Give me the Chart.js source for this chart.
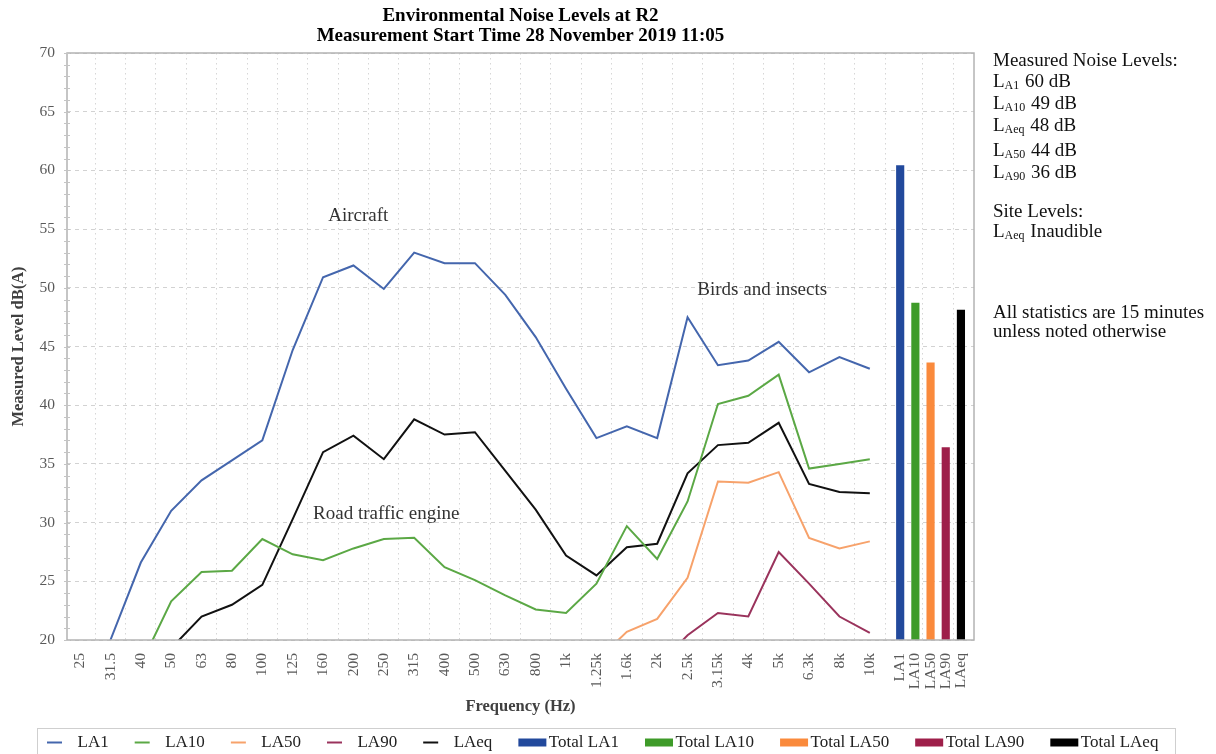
<!DOCTYPE html>
<html>
<head>
<meta charset="utf-8">
<script src="https://cdn.jsdelivr.net/npm/chart.js@4.4.1/dist/chart.umd.min.js"></script>
<style>
  html, body { margin: 0; padding: 0; background: #ffffff; }
  canvas { display: block; }
</style>
</head>
<body>
<canvas id="chart" width="1216" height="754"></canvas>
<script>
// One-third octave band centre frequencies (x categories)
const frequencies = ['25', '31.5', '40', '50', '63', '80', '100', '125', '160', '200', '250', '315',
  '400', '500', '630', '800', '1k', '1.25k', '1.6k', '2k', '2.5k', '3.15k', '4k', '5k', '6.3k', '8k', '10k'];

// Spectrum levels per band, dB(A); null where the band sits below the axis floor
const la1 = [null, 20.0, 26.6, 31.0, 33.6, 35.3, 37.0, 44.7, 50.9, 51.9, 49.9, 53.0, 52.1, 52.1,
  49.4, 45.8, 41.4, 37.2, 38.2, 37.2, 47.5, 43.4, 43.8, 45.4, 42.8, 44.1, 43.1];
const la10 = [null, null, 17.9, 23.3, 25.8, 25.9, 28.6, 27.3, 26.8, 27.8, 28.6, 28.7, 26.2, 25.1,
  23.8, 22.6, 22.3, 24.8, 29.7, 26.9, 31.8, 40.1, 40.8, 42.6, 34.6, 35.0, 35.4];
const la50 = [null, null, null, null, null, null, null, null, null, null, null, null, null, null,
  null, null, null, 18.2, 20.7, 21.8, 25.3, 33.5, 33.4, 34.3, 28.7, 27.8, 28.4];
const la90 = [null, null, null, null, null, null, null, null, null, null, null, null, null, null,
  null, null, null, null, null, 17.8, 20.4, 22.3, 22.0, 27.5, 24.8, 22.0, 20.6];
const laeq = [null, null, null, 19.3, 22.0, 23.0, 24.7, 30.3, 36.0, 37.4, 35.4, 38.8, 37.5, 37.7,
  34.4, 31.1, 27.2, 25.5, 27.9, 28.2, 34.2, 36.6, 36.8, 38.5, 33.3, 32.6, 32.5];

// Overall (broadband) statistics
const totalNames = ['LA1', 'LA10', 'LA50', 'LA90', 'LAeq'];
const totalLevels = [60.4, 48.7, 43.6, 36.4, 48.1];

// Y axis range and tick step
const yMin = 20, yMax = 70, yStep = 5;

// Source notes drawn on the plot
const notes = [
  { text: 'Aircraft', band: 8.17, level: 56.1 },
  { text: 'Birds and insects', band: 20.32, level: 49.8 },
  { text: 'Road traffic engine', band: 7.67, level: 30.7 }
];

// Side panel text
const siteLevels = [['LAeq', 'Inaudible']];
const footnote = ['All statistics are 15 minutes', 'unless noted otherwise'];

// ---------------------------------------------------------------------------
const SERIF = '"Liberation Serif", "Times New Roman", serif';
const lineColours = ['#4466ad', '#5ba845', '#f7a26b', '#9a335c', '#111111'];
const barColours = ['#22499c', '#3e9b29', '#fa8a3c', '#9e1f4a', '#000000'];
const spectra = [la1, la10, la50, la90, laeq];

// Total bars sit after the last band, half a band apart
const totalPos = totalNames.map((_, k) => frequencies.length + k * 0.5);
const tickPos = frequencies.map((_, i) => i).concat(totalPos);
const tickText = new Map(tickPos.map((p, i) => [p, i < frequencies.length ? frequencies[i] : totalNames[i - frequencies.length]]));

// Legend keys: short line for spectra, wide block for totals
const KEY_BOX = 42, KEY_LEAD = 20, KEY_EXTRA = 7;
function makeKey(colour, isBar) {
  const c = document.createElement('canvas');
  c.width = KEY_BOX + 2 * KEY_EXTRA;
  c.height = 10;
  const g = c.getContext('2d');
  const x0 = KEY_EXTRA + KEY_LEAD;
  if (isBar) {
    g.fillStyle = colour;
    g.fillRect(x0, 1, 28, 8);
  } else {
    g.strokeStyle = colour;
    g.lineWidth = 2;
    g.beginPath();
    g.moveTo(x0, 5);
    g.lineTo(x0 + 15, 5);
    g.stroke();
  }
  return c;
}

const datasets = [];
spectra.forEach((arr, s) => {
  datasets.push({
    type: 'line',
    label: totalNames[s],
    data: arr.map((v, i) => ({ x: i, y: v })),
    borderColor: lineColours[s],
    backgroundColor: lineColours[s],
    borderWidth: 2,
    pointRadius: 0,
    tension: 0,
    fill: false,
    spanGaps: false,
    key: makeKey(lineColours[s], false)
  });
});
totalNames.forEach((name, k) => {
  datasets.push({
    type: 'bar',
    label: 'Total ' + name,
    data: [{ x: totalPos[k], y: totalLevels[k] }],
    backgroundColor: barColours[k],
    borderWidth: 0,
    barThickness: 7.5,
    grouped: false,
    key: makeKey(barColours[k], true)
  });
});

// Plot frame and minor level ticks
const framePlugin = {
  id: 'frame',
  afterDatasetsDraw(chart) {
    const { ctx, chartArea: a, scales: { y } } = chart;
    ctx.save();
    ctx.strokeStyle = '#b3b3b3';
    ctx.lineWidth = 1.5;
    ctx.strokeRect(a.left, a.top, a.right - a.left, a.bottom - a.top);
    ctx.lineWidth = 1;
    ctx.strokeStyle = '#c4c4c4';
    for (let v = yMin; v <= yMax; v++) {
      const py = Math.round(y.getPixelForValue(v)) + 0.5;
      ctx.beginPath();
      ctx.moveTo(a.left - 3, py);
      ctx.lineTo(a.left + 3, py);
      ctx.stroke();
    }
    ctx.restore();
  }
};

// Source notes placed in data coordinates
const notesPlugin = {
  id: 'notes',
  afterDatasetsDraw(chart) {
    const { ctx, scales: { x, y } } = chart;
    ctx.save();
    ctx.font = '19px ' + SERIF;
    ctx.fillStyle = '#333333';
    ctx.textAlign = 'left';
    ctx.textBaseline = 'middle';
    notes.forEach(n => ctx.fillText(n.text, x.getPixelForValue(n.band), y.getPixelForValue(n.level)));
    ctx.restore();
  }
};

// Legend frame
const legendFramePlugin = {
  id: 'legendFrame',
  afterDraw(chart) {
    const lg = chart.legend;
    if (!lg || !lg.lineWidths) return;
    const pad = lg.options.labels.padding;
    const left = lg.left + pad + KEY_LEAD - 10;
    const right = lg.left + lg.lineWidths[0] + 17;
    const ctx = chart.ctx;
    ctx.save();
    ctx.strokeStyle = '#cfcfcf';
    ctx.lineWidth = 1;
    ctx.strokeRect(Math.round(left) + 0.5, Math.round(lg.top) + 0.5, Math.round(right - left), 40);
    ctx.restore();
  }
};

// Side panel with the overall levels
const panelPlugin = {
  id: 'panel',
  afterDraw(chart) {
    const { ctx, chartArea: a } = chart;
    const x0 = a.right + 19;
    const top = a.top;
    ctx.save();
    ctx.fillStyle = '#111111';
    ctx.textAlign = 'left';
    ctx.textBaseline = 'middle';
    const big = '19px ' + SERIF, small = '12px ' + SERIF;
    const subLine = (name, rest, y) => {
      ctx.font = big;
      ctx.fillText('L', x0, y);
      let x = x0 + ctx.measureText('L').width;
      ctx.font = small;
      const sub = name.slice(1);
      ctx.fillText(sub, x, y + 4);
      x += ctx.measureText(sub).width + 1;
      ctx.font = big;
      ctx.fillText(' ' + rest, x, y);
    };
    ctx.font = big;
    ctx.fillText('Measured Noise Levels:', x0, top + 8);
    const order = totalNames.map((n, i) => i).sort((p, q) => totalLevels[q] - totalLevels[p]);
    const rows = [28.7, 51.3, 73, 97.7, 119.7];
    order.forEach((i, r) => subLine(totalNames[i], Math.round(totalLevels[i]) + ' dB', top + rows[r]));
    ctx.font = big;
    ctx.fillText('Site Levels:', x0, top + 158.7);
    siteLevels.forEach(([n, v], r) => subLine(n, v, top + 179.3 + r * 21));
    ctx.font = big;
    footnote.forEach((t, r) => ctx.fillText(t, x0, top + 260.3 + r * 19));
    ctx.restore();
  }
};

new Chart(document.getElementById('chart'), {
  type: 'line',
  data: { datasets },
  options: {
    responsive: false,
    animation: false,
    devicePixelRatio: 1,
    layout: { padding: { left: 21, right: 0, top: 6, bottom: -7 } },
    plugins: {
      title: {
        display: true,
        fullSize: false,
        text: ['Environmental Noise Levels at R2', 'Measurement Start Time 28 November 2019 11:05'],
        color: '#000000',
        font: { family: SERIF, size: 19, weight: 'bold', lineHeight: '20px' },
        padding: { top: 0, bottom: 7 }
      },
      legend: {
        position: 'bottom',
        align: 'start',
        labels: {
          usePointStyle: true,
          pointStyleWidth: KEY_BOX,
          padding: 6,
          color: '#222222',
          font: { family: SERIF, size: 17 },
          generateLabels(chart) {
            const items = Chart.defaults.plugins.legend.labels.generateLabels(chart);
            items.forEach(it => { it.pointStyle = chart.data.datasets[it.datasetIndex].key; });
            return items;
          }
        }
      },
      tooltip: { enabled: false }
    },
    scales: {
      x: {
        type: 'linear',
        position: 'bottom',
        min: -0.43,
        max: totalPos[totalPos.length - 1] + 0.43,
        offset: false,
        afterBuildTicks(scale) { scale.ticks = tickPos.map(v => ({ value: v })); },
        afterFit(scale) { scale.height = 88; },
        ticks: {
          autoSkip: false,
          minRotation: 90,
          maxRotation: 90,
          padding: 13,
          color: '#595959',
          font: { family: SERIF, size: 15.5 },
          callback: v => tickText.get(v) ?? ''
        },
        grid: {
          drawTicks: false,
          lineWidth: 1,
          color: ctx => (ctx.tick && Number.isInteger(ctx.tick.value)) ? '#d6d6d6' : 'rgba(0,0,0,0)'
        },
        border: { display: false, dash: [1.5, 3.5] },
        title: {
          display: true,
          text: 'Frequency (Hz)',
          color: '#404040',
          font: { family: SERIF, size: 16.5, weight: 'bold' },
          padding: { top: 0, bottom: 11.1 }
        }
      },
      y: {
        type: 'linear',
        position: 'left',
        min: yMin,
        max: yMax,
        afterFit(scale) { scale.width = 46; },
        ticks: {
          stepSize: yStep,
          padding: 12,
          color: '#595959',
          font: { family: SERIF, size: 15.5 }
        },
        grid: { drawTicks: false, color: '#d2d2d2', lineWidth: 1 },
        border: { display: false, dash: [4, 4] },
        title: {
          display: true,
          text: 'Measured Level dB(A)',
          color: '#404040',
          font: { family: SERIF, size: 16.5, weight: 'bold' },
          padding: { top: -12.6, bottom: 0 }
        }
      },
      side: {
        type: 'linear',
        position: 'right',
        display: true,
        afterFit(scale) { scale.width = 242; },
        ticks: { display: false },
        grid: { display: false },
        border: { display: false }
      }
    }
  },
  plugins: [framePlugin, notesPlugin, legendFramePlugin, panelPlugin]
});
</script>
</body>
</html>
